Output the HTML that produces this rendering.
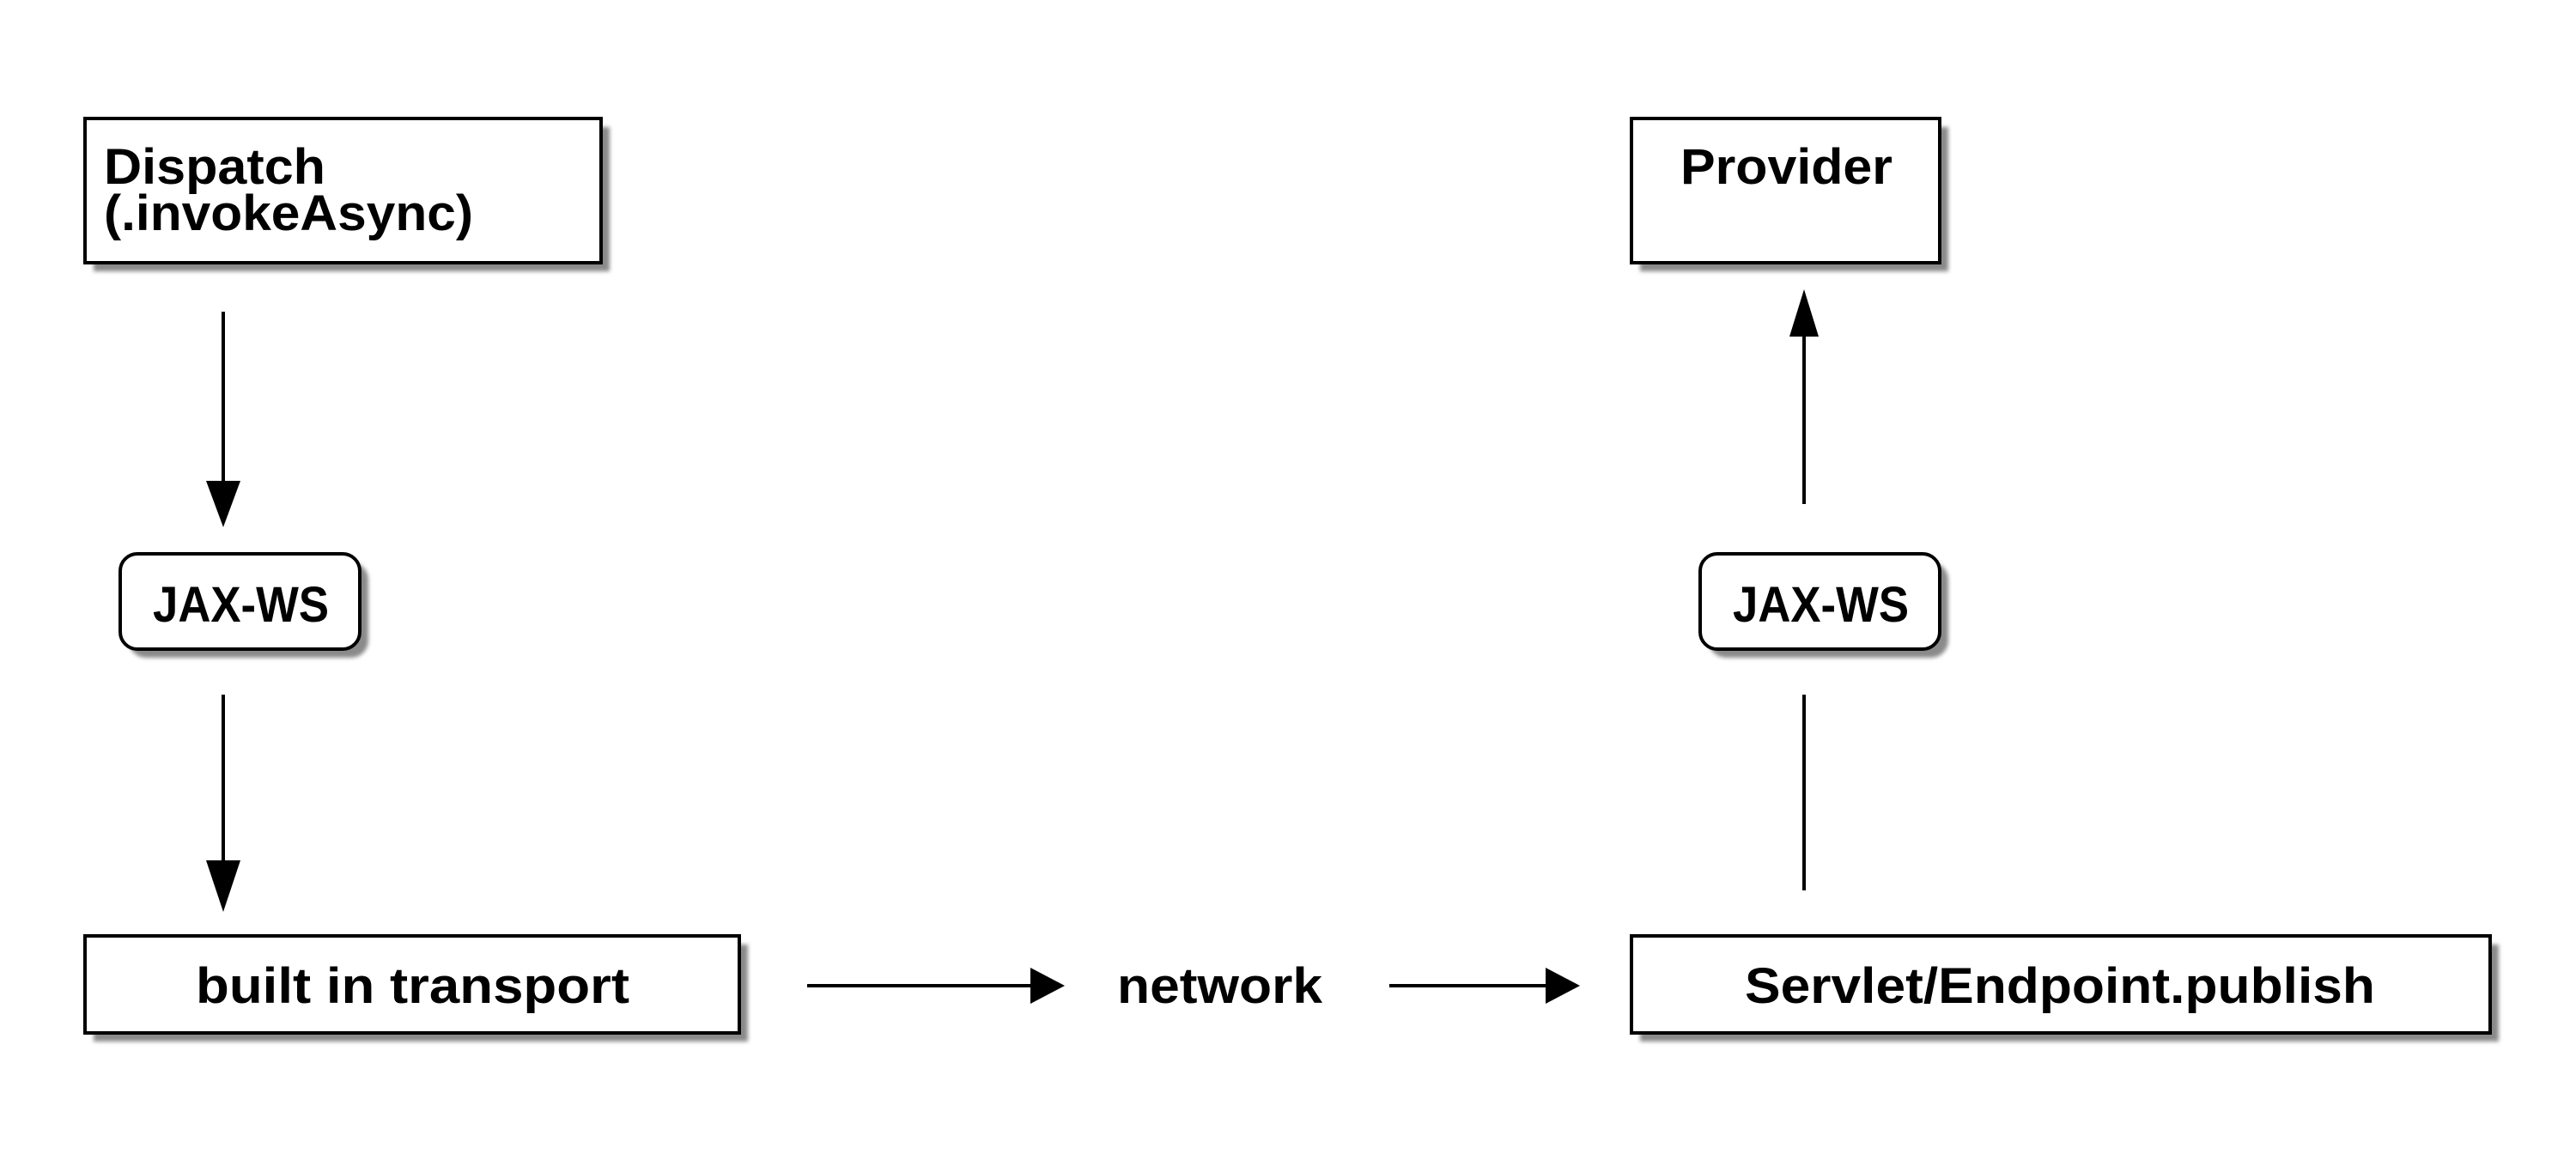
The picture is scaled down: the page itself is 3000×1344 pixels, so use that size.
<!DOCTYPE html>
<html><head><meta charset="utf-8"><style>html,body{margin:0;padding:0;background:#fff}svg{display:block}</style></head>
<body>
<svg width="3000" height="1344" viewBox="0 0 3000 1344" xmlns="http://www.w3.org/2000/svg">
<defs>
<filter id="sh" x="-10%" y="-10%" width="130%" height="140%"><feGaussianBlur stdDeviation="2.5"/></filter>
</defs>
<rect width="3000" height="1344" fill="#fff"/>
<g fill="#8a8a8a" filter="url(#sh)">
<rect x="109" y="148" width="601" height="168"/>
<rect x="1910" y="148" width="359" height="168"/>
<rect x="150" y="655" width="279" height="111" rx="20"/>
<rect x="1990" y="655" width="279" height="111" rx="20"/>
<rect x="109" y="1100" width="762" height="113"/>
<rect x="1910" y="1100" width="1000" height="113"/>
</g>
<g fill="#fff" stroke="#000" stroke-width="4">
<rect x="99" y="138" width="601" height="168"/>
<rect x="1900" y="138" width="359" height="168"/>
<rect x="140" y="645" width="279" height="111" rx="20"/>
<rect x="1980" y="645" width="279" height="111" rx="20"/>
<rect x="99" y="1090" width="762" height="113"/>
<rect x="1900" y="1090" width="1000" height="113"/>
</g>
<g stroke="#000" stroke-width="4" fill="none">
<line x1="260" y1="363" x2="260" y2="565"/>
<line x1="260" y1="809" x2="260" y2="1005"/>
<line x1="940" y1="1148" x2="1205" y2="1148"/>
<line x1="1618" y1="1148" x2="1802" y2="1148"/>
<line x1="2101" y1="587" x2="2101" y2="390"/>
<line x1="2101" y1="809" x2="2101" y2="1037"/>
</g>
<g fill="#000">
<polygon points="240,560 280,560 260,614"/>
<polygon points="240,1002 280,1002 260,1062"/>
<polygon points="1200,1127 1200,1169 1240,1148"/>
<polygon points="1800,1127 1800,1169 1840,1148"/>
<polygon points="2084,392 2118,392 2101,337"/>
</g>
<g font-family="Liberation Sans, sans-serif" font-weight="bold" font-size="58" fill="#000">
<text x="121" y="214" textLength="258" lengthAdjust="spacingAndGlyphs">Dispatch</text>
<text x="121" y="268" textLength="430" lengthAdjust="spacingAndGlyphs">(.invokeAsync)</text>
<text x="1957" y="214" textLength="247" lengthAdjust="spacingAndGlyphs">Provider</text>
<text x="178" y="724" textLength="205" lengthAdjust="spacingAndGlyphs">JAX-WS</text>
<text x="2018" y="724" textLength="205" lengthAdjust="spacingAndGlyphs">JAX-WS</text>
<text x="228" y="1168" textLength="505" lengthAdjust="spacingAndGlyphs">built in transport</text>
<text x="1301" y="1168" textLength="239" lengthAdjust="spacingAndGlyphs">network</text>
<text x="2032" y="1168" textLength="734" lengthAdjust="spacingAndGlyphs">Servlet/Endpoint.publish</text>
</g>
</svg>
</body></html>
